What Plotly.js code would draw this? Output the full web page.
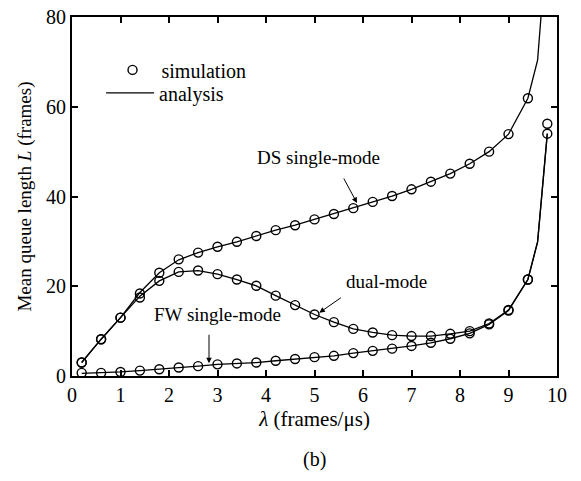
<!DOCTYPE html>
<html>
<head>
<meta charset="utf-8">
<script src="https://cdn.plot.ly/plotly-3.0.1.min.js"></script>
<style>html,body{margin:0;padding:0;background:#fff;}#chart{width:581px;height:481px;}</style>
</head>
<body>
<div id="chart"></div>
<script>
// Simulation points (lambda, frames/us)
const simX = [0.2,0.6,1.0,1.4,1.8,2.2,2.6,3.0,3.4,3.8,4.2,4.6,5.0,5.4,5.8,6.2,6.6,7.0,7.4,7.8,8.2,8.6,9.0,9.4,9.8];
const simDS   = [3.0,8.2,13.0,18.4,23.0,26.0,27.5,28.8,29.9,31.2,32.5,33.6,34.9,36.1,37.4,38.8,40.1,41.6,43.3,45.1,47.3,50.0,53.9,61.9,null];
const simDual = [3.0,8.2,13.0,17.5,21.2,23.2,23.5,22.7,21.5,20.1,17.9,15.8,13.7,12.0,10.5,9.7,9.1,8.9,8.9,9.4,10.0,11.7,14.7,21.5,56.2];
const simFW   = [0.7,0.7,0.9,1.2,1.5,1.9,2.2,2.6,2.8,3.0,3.4,3.8,4.2,4.5,5.1,5.6,6.1,6.7,7.4,8.3,9.5,11.5,14.6,21.5,54.0];

// Analysis curves
const anaX = [0.2,0.6,1.0,1.4,1.8,2.2,2.6,3.0,3.4,3.8,4.2,4.6,5.0,5.4,5.8,6.2,6.6,7.0,7.4,7.8,8.2,8.6,9.0,9.4,9.6,9.8];
const anaDS   = [3.0,8.2,13.0,18.6,23.0,25.9,27.5,28.8,29.9,31.2,32.5,33.6,34.9,36.1,37.4,38.8,40.1,41.6,43.3,45.1,47.3,50.0,53.9,61.9,70.4,98.0];
const anaDual = [3.0,8.2,13.0,17.8,21.2,23.2,23.5,22.7,21.5,20.1,17.9,15.8,13.7,12.0,10.5,9.7,9.1,8.9,8.9,9.4,10.0,11.7,14.7,21.5,29.9,54.0];
const anaFW   = [0.6,0.7,0.9,1.2,1.5,1.9,2.2,2.6,2.8,3.0,3.4,3.8,4.2,4.5,5.1,5.6,6.1,6.7,7.4,8.3,9.5,11.5,14.6,21.5,29.9,54.0];

const xTicks = [0,1,2,3,4,5,6,7,8,9,10];
const yTicks = [0,20,40,60,80];

const FONT = "Liberation Serif, Times New Roman, serif";
const lineStyle = {color:'#000', width:1.3};
const markerStyle = {symbol:'circle-open', size:9, color:'#000', line:{width:1.4, color:'#000'}};

function ana(y, show){ return {x:anaX, y:y, mode:'lines', line:lineStyle, name:'analysis', legend:'legend2', showlegend:show, hoverinfo:'skip'}; }
function sim(y, show){ return {x:simX, y:y, mode:'markers', marker:markerStyle, name:'simulation', legend:'legend', showlegend:show, cliponaxis:true}; }

const data = [
  sim(simDS, true),
  ana(anaDS, true),
  ana(anaDual, false),
  ana(anaFW, false),
  sim(simDual, false),
  sim(simFW, false)
];

const axisCommon = {
  showgrid:false, zeroline:false, showline:true, linecolor:'#000', linewidth:2,
  mirror:'allticks', ticks:'inside', ticklen:6, tickwidth:2, tickcolor:'#000',
  tickfont:{family:FONT, size:20, color:'#000'}
};

const annFont = {family:FONT, size:19, color:'#000'};
function arrow(x, y, ax, ay){
  return {x:x, y:y, xref:'x', yref:'y', text:'', showarrow:true, arrowhead:2, arrowsize:1.1, arrowwidth:1,
          arrowcolor:'#000', ax:ax, ay:ay, standoff:0, startstandoff:0};
}
function label(x, y, t){
  return {x:x, y:y, xref:'x', yref:'y', text:t, showarrow:false, xanchor:'center', yanchor:'middle', font:annFont};
}
const legFont = {family:FONT, size:20, color:'#000'};

const layout = {
  width:581, height:481,
  margin:{l:72, r:24, t:17, b:105},
  paper_bgcolor:'#fff', plot_bgcolor:'#fff',
  font:{family:FONT, size:20, color:'#000'},
  xaxis:Object.assign({}, axisCommon, {
    range:[0,10], tickvals:xTicks, ticktext:xTicks.map(String),
    title:{text:'<i>λ</i> (frames/μs)', font:{family:FONT, size:21, color:'#000'}, standoff:6}
  }),
  yaxis:Object.assign({}, axisCommon, {
    range:[0,80], tickvals:yTicks, ticktext:yTicks.map(String),
    title:{text:'Mean queue length <i>L</i> (frames)', font:{family:FONT, size:19, color:'#000'}, standoff:9}
  }),
  showlegend:true,
  legend:{x:0.065, y:0.907, xanchor:'left', yanchor:'top', bgcolor:'rgba(0,0,0,0)',
          font:legFont, itemwidth:48},
  legend2:{x:0.06, y:0.843, xanchor:'left', yanchor:'top', bgcolor:'rgba(0,0,0,0)',
          font:legFont, itemwidth:48},
  annotations:[
    {xref:'paper', yref:'paper', x:0.5, y:-0.232, text:'(b)', showarrow:false, xanchor:'center', yanchor:'middle', font:{family:FONT, size:20}},
    label(5.09, 48.8, 'DS single-mode'),
    arrow(5.876, 38.55, -14, -26),
    label(6.49, 20.95, 'dual-mode'),
    arrow(5.10, 14.1, 23, -16),
    label(3.01, 13.6, 'FW single-mode'),
    arrow(2.825, 2.83, 0, -30)
  ]
};

Plotly.newPlot('chart', data, layout, {staticPlot:true, displayModeBar:false});
</script>
</body>
</html>
